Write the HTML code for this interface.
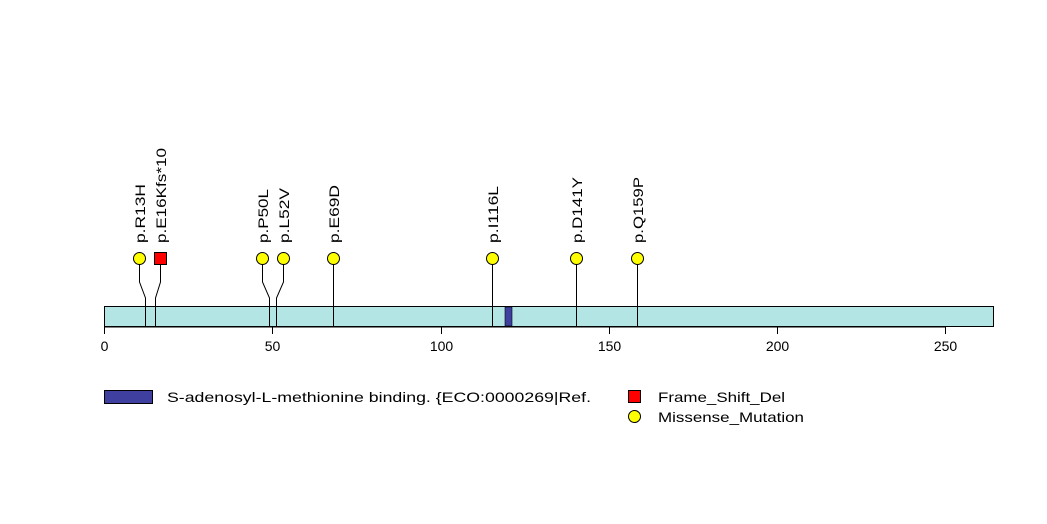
<!DOCTYPE html>
<html><head><style>body{margin:0;background:#fff}svg{display:block}text{font-family:"Liberation Sans",sans-serif;font-size:14px;fill:#000}</style></head><body>
<svg width="1047" height="524" viewBox="0 0 1047 524">
<rect x="104.5" y="306.5" width="889" height="20" fill="#b4e5e5" stroke="#000"/>
<rect x="505" y="307" width="7" height="19" fill="#3f3fa0" stroke="#000" stroke-width="0.6"/>
<g stroke="#000" fill="none">
<line x1="104.5" y1="327" x2="945.5" y2="327"/>
<line x1="104.5" y1="327" x2="104.5" y2="334"/><line x1="272.5" y1="327" x2="272.5" y2="334"/><line x1="441.5" y1="327" x2="441.5" y2="334"/><line x1="609.5" y1="327" x2="609.5" y2="334"/><line x1="777.5" y1="327" x2="777.5" y2="334"/><line x1="945.5" y1="327" x2="945.5" y2="334"/>
<polyline points="139.5,258 139.5,282 145.5,298 145.5,327"/>
<polyline points="160.5,258 160.5,282 155.5,298 155.5,327"/>
<polyline points="262.5,258 262.5,282 269.5,298 269.5,327"/>
<polyline points="283.5,258 283.5,282 276.5,298 276.5,327"/>
<polyline points="333.5,258 333.5,327"/>
<polyline points="492.5,258 492.5,327"/>
<polyline points="576.5,258 576.5,327"/>
<polyline points="637.5,258 637.5,327"/>
</g>
<g stroke="#000" fill="#ffff00">
<circle cx="139.5" cy="258.5" r="6"/>
<rect x="154.5" y="252.5" width="12" height="12" fill="#ff0000"/>
<circle cx="262.5" cy="258.5" r="6"/><circle cx="283.5" cy="258.5" r="6"/><circle cx="333.5" cy="258.5" r="6"/><circle cx="492.5" cy="258.5" r="6"/><circle cx="576.5" cy="258.5" r="6"/><circle cx="637.5" cy="258.5" r="6"/>
</g>
<g>
<text transform="translate(145,243) rotate(-90)" textLength="59" lengthAdjust="spacingAndGlyphs">p.R13H</text>
<text transform="translate(166,243) rotate(-90)" textLength="95" lengthAdjust="spacingAndGlyphs">p.E16Kfs*10</text>
<text transform="translate(268,243) rotate(-90)" textLength="54" lengthAdjust="spacingAndGlyphs">p.P50L</text>
<text transform="translate(289,243) rotate(-90)" textLength="55" lengthAdjust="spacingAndGlyphs">p.L52V</text>
<text transform="translate(339,243) rotate(-90)" textLength="58" lengthAdjust="spacingAndGlyphs">p.E69D</text>
<text transform="translate(498,243) rotate(-90)" textLength="57" lengthAdjust="spacingAndGlyphs">p.I116L</text>
<text transform="translate(582,243) rotate(-90)" textLength="66" lengthAdjust="spacingAndGlyphs">p.D141Y</text>
<text transform="translate(643,243) rotate(-90)" textLength="66" lengthAdjust="spacingAndGlyphs">p.Q159P</text>
</g>
<g text-anchor="middle">
<text x="104.5" y="351">0</text><text x="272.5" y="351">50</text><text x="441.5" y="351">100</text><text x="609.5" y="351">150</text><text x="777.5" y="351">200</text><text x="945.5" y="351">250</text>
</g>
<rect x="104.5" y="390.5" width="48" height="13" fill="#3f3fa0" stroke="#000"/>
<text x="167" y="402" textLength="424" lengthAdjust="spacingAndGlyphs">S-adenosyl-L-methionine binding. {ECO:0000269|Ref.</text>
<rect x="628.5" y="390.5" width="12" height="12" fill="#ff0000" stroke="#000"/>
<circle cx="634.5" cy="416.5" r="6" fill="#ffff00" stroke="#000"/>
<text x="658" y="402" textLength="127" lengthAdjust="spacingAndGlyphs">Frame_Shift_Del</text>
<text x="658" y="422" textLength="146" lengthAdjust="spacingAndGlyphs">Missense_Mutation</text>
</svg>
</body></html>
